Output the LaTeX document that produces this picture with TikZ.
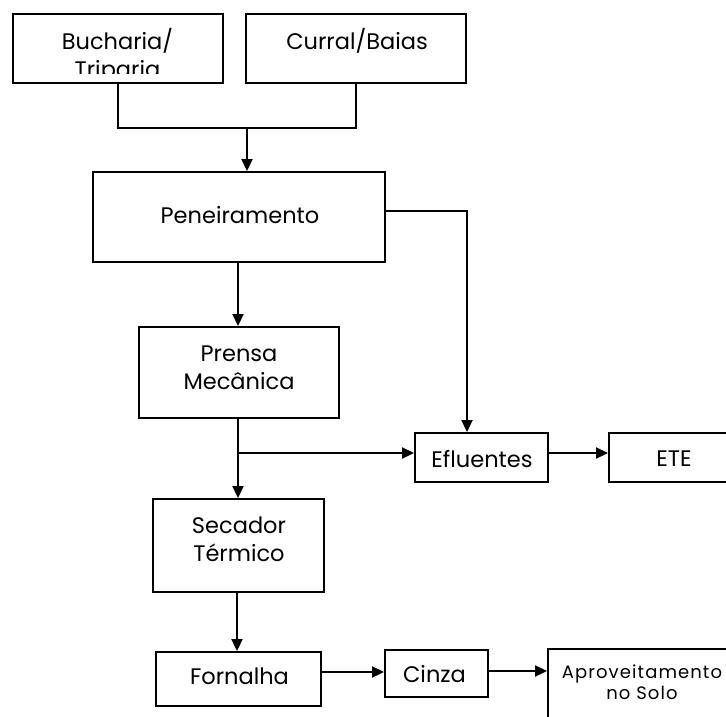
\documentclass[tikz,border=0pt]{standalone}
\usepackage{fontspec}
\setmainfont{Poppins}
\newfontfamily\spacedfont[LetterSpace=6]{Poppins}
\usetikzlibrary{arrows.meta,calc}
\tikzset{
  box/.style={draw, line width=1.9pt, inner sep=0pt, rectangle},
  lbl/.style={anchor=base, inner sep=0pt, align=center, font=\fontsize{22.5}{28}\selectfont, text=black},
  small/.style={anchor=base, inner sep=0pt, align=center, font=\spacedfont\fontsize{18}{21}\selectfont, text=black},
  conn/.style={line width=1.9pt},
  arr/.style={line width=1.9pt, -{Triangle[length=12pt,width=11pt]}}
}
\begin{document}
\begin{tikzpicture}[x=1pt,y=-1pt]
\useasboundingbox (0,0) rectangle (726,716);
\clip (0,0) rectangle (726,716);
% boxes
\node[box, minimum width=210pt, minimum height=69pt] (buch) at (118,48.5) {};
\node[box, minimum width=220pt, minimum height=69pt] (curral) at (356,48.5) {};
\node[box, minimum width=292pt, minimum height=90pt] (pen) at (239,217) {};
\node[box, minimum width=200pt, minimum height=91pt] (prensa) at (239,372.5) {};
\node[box, minimum width=133pt, minimum height=49pt] (eflu) at (481.5,457.5) {};
\node[box, minimum width=131pt, minimum height=49pt] (ete) at (674.5,457.5) {};
\node[box, minimum width=171pt, minimum height=93pt] (sec) at (238.5,545.5) {};
\node[box, minimum width=165pt, minimum height=54pt] (forn) at (238.5,679) {};
\node[box, minimum width=103pt, minimum height=47pt] (cinza) at (436.5,673.5) {};
\node[box, minimum width=192pt, minimum height=91pt] (aprov) at (644,694.5) {};
% texts (base anchor = baseline of last line)
\begin{scope}
\clip (13,14) rectangle (223,73);
\node[lbl] (t-buch) at (117.5,77) {Bucharia/\\Triparia};
\end{scope}
\node[lbl] (t-curral) at (357,49) {Curral/Baias};
\node[lbl] (t-pen) at (240,223) {Peneiramento};
\node[lbl] (t-prensa) at (239,389) {Prensa\\Mecânica};
\node[lbl] (t-eflu) at (482,467) {Efluentes};
\node[lbl] (t-ete) at (674,466) {ETE};
\node[lbl] (t-sec) at (239,561) {Secador\\Térmico};
\node[lbl] (t-forn) at (239.5,684) {Fornalha};
\node[lbl] (t-cinza) at (434.5,682) {Cinza};
\node[small] (t-aprov) at (642,699) {Aproveitamento\\no Solo};
% connectors
\coordinate (j1) at (247,128);
\draw[conn] (buch.south) -- (buch.south |- j1) -- (curral.south |- j1) -- (curral.south);
\draw[arr] (j1) -- (j1 |- pen.north);
\coordinate (k1) at (467,211);
\draw[arr] (k1 -| pen.east) -- (k1) -- (k1 |- eflu.north);
\coordinate (m1) at (238,262);
\draw[arr] (m1) -- (m1 |- prensa.north);
\coordinate (b1) at (238,453);
\draw[arr] (b1 |- prensa.south) -- (b1 |- sec.north);
\draw[arr] (b1) -- (b1 -| eflu.west);
\draw[arr] (b1 -| eflu.east) -- (b1 -| ete.west);
\coordinate (s1) at (237,600);
\draw[arr] (s1 |- sec.south) -- (s1 |- forn.north);
\coordinate (f1) at (0,672);
\draw[arr] (f1 -| forn.east) -- (f1 -| cinza.west);
\coordinate (c1) at (0,671);
\draw[arr] (c1 -| cinza.east) -- (c1 -| aprov.west);
\end{tikzpicture}
\end{document}
